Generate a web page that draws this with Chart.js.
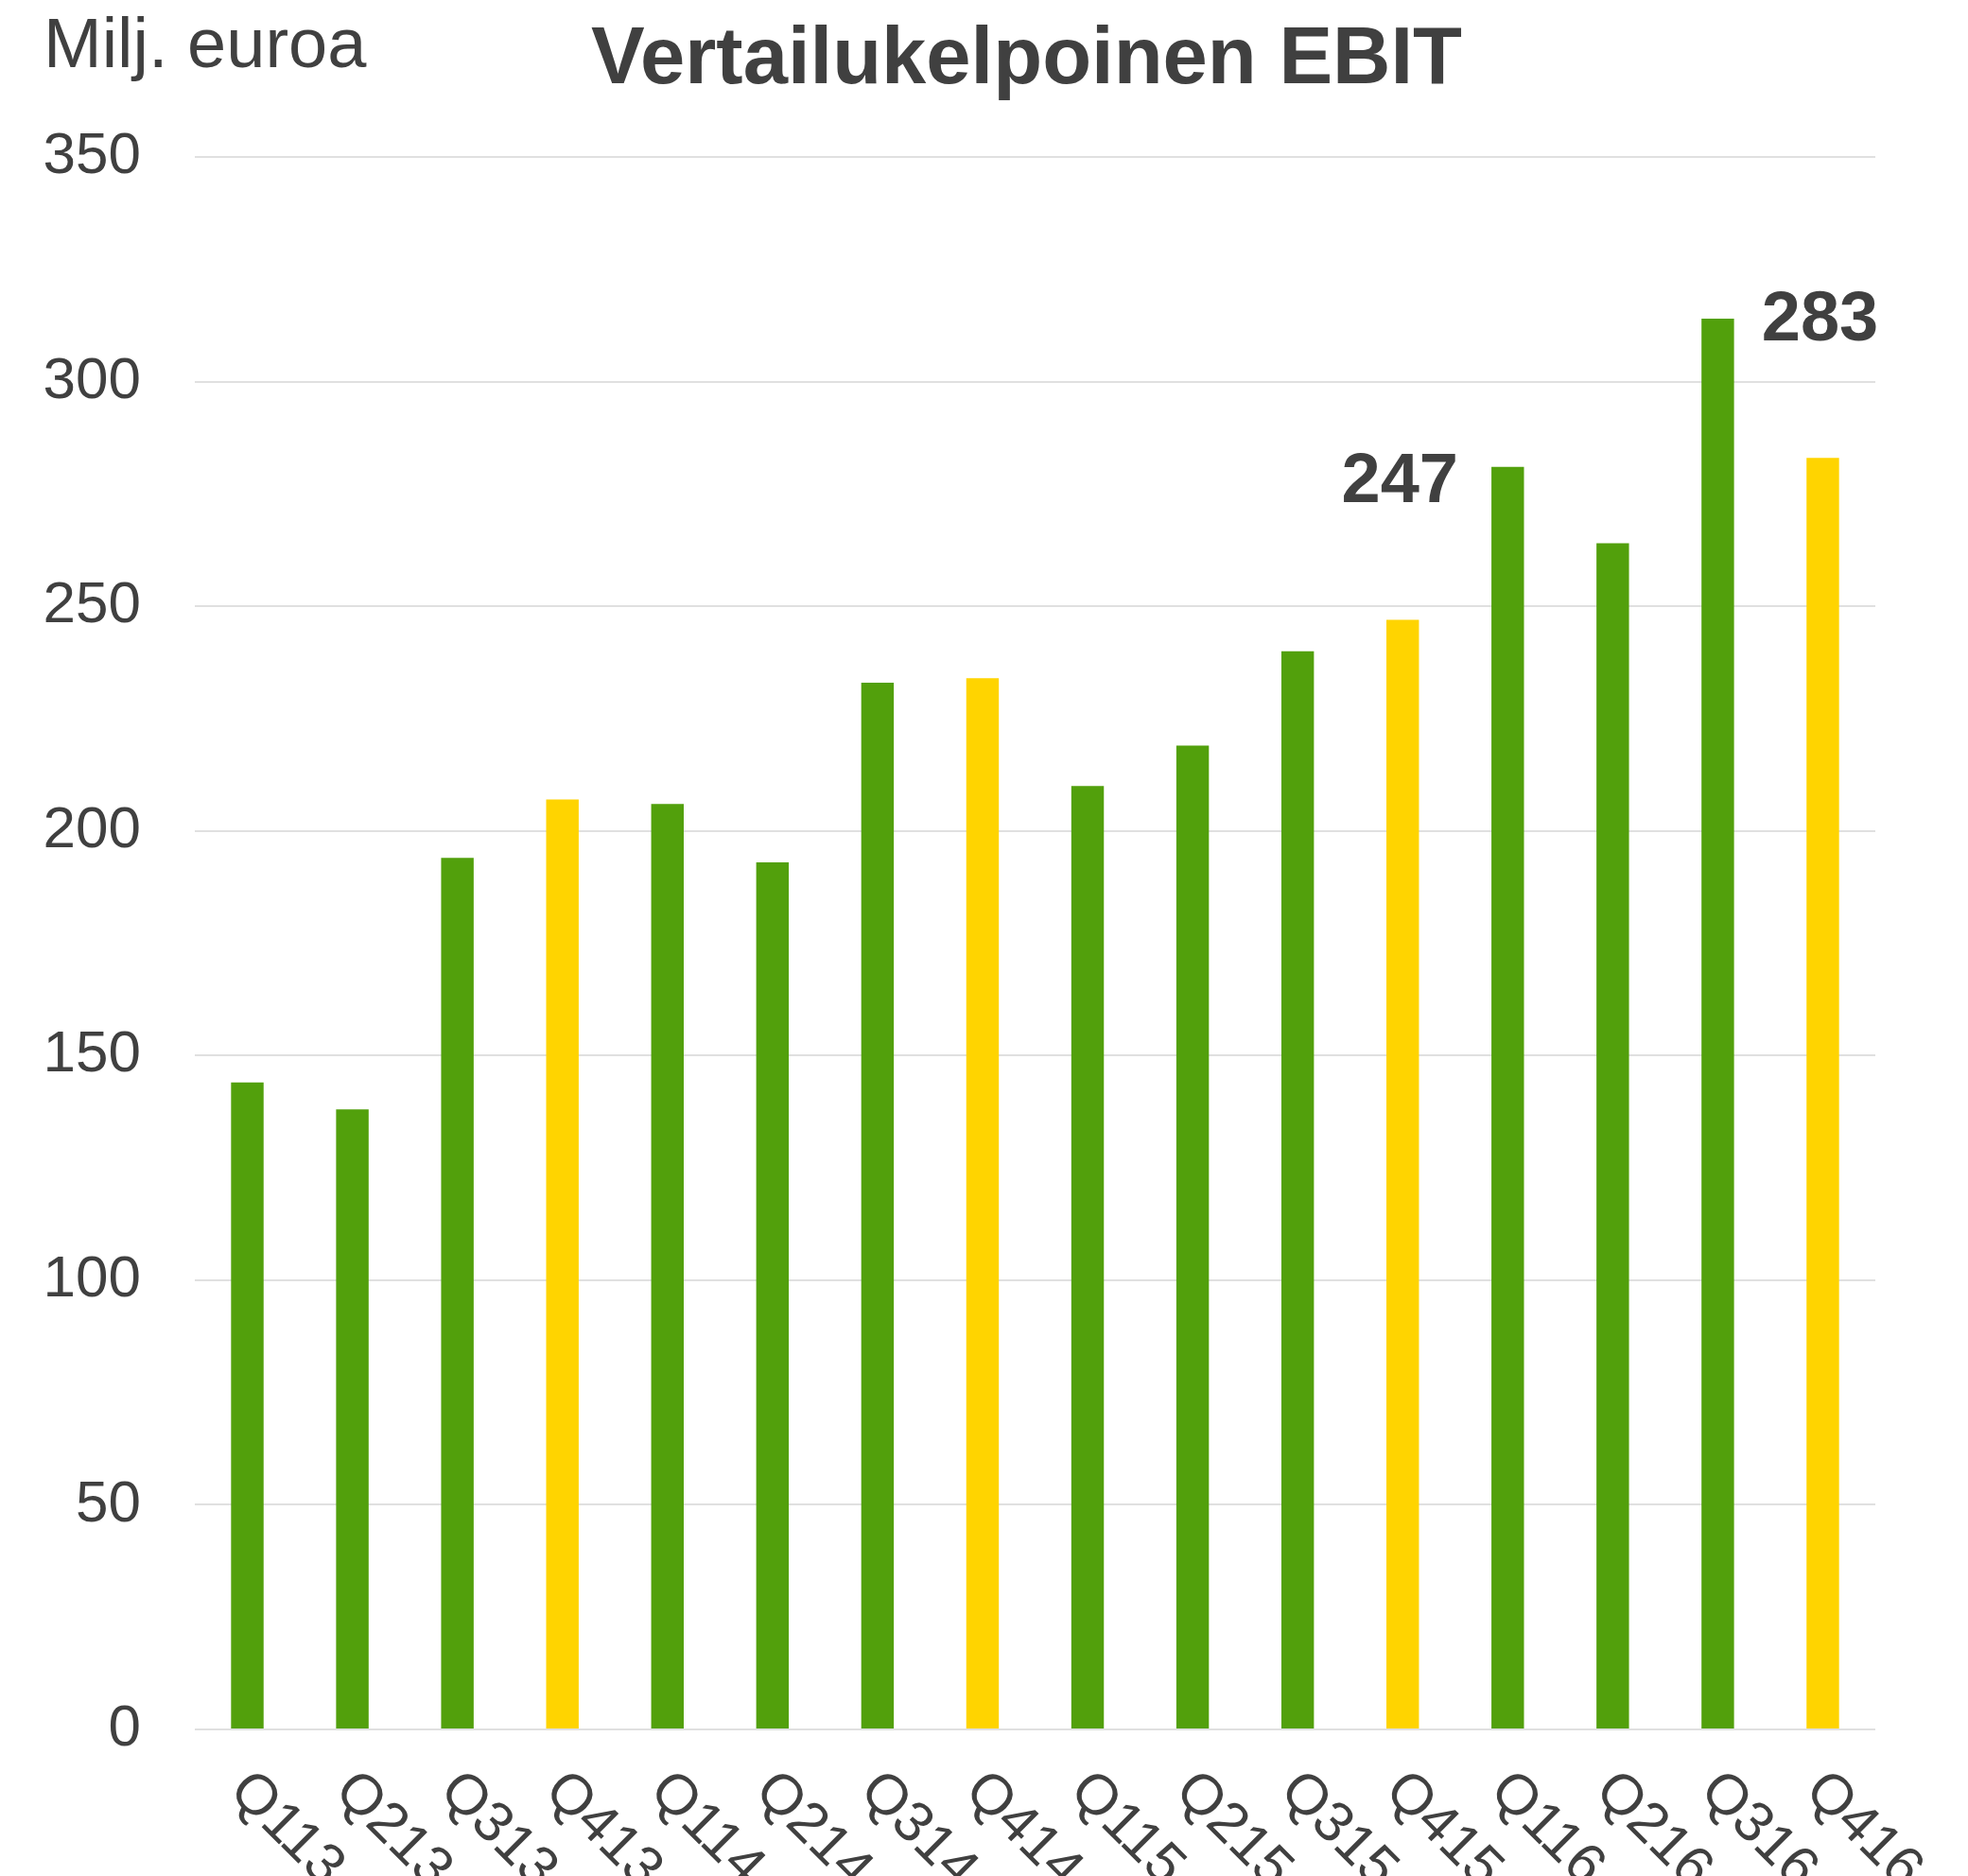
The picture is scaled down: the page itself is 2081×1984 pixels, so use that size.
<!DOCTYPE html>
<html>
<head>
<meta charset="utf-8">
<script src="https://cdn.jsdelivr.net/npm/chart.js@4.4.1/dist/chart.umd.min.js"></script>
<style>
  html, body { margin: 0; padding: 0; background: #fff; }
  canvas { display: block; }
</style>
</head>
<body>
<canvas id="ebitChart" width="2081" height="1984"></canvas>
<script>
// Data
const quarters = ['Q113', 'Q213', 'Q313', 'Q413', 'Q114', 'Q214', 'Q314', 'Q414',
  'Q115', 'Q215', 'Q315', 'Q415', 'Q116', 'Q216', 'Q316', 'Q416'];
const ebitValues = [144, 138, 194, 207, 206, 193, 233, 234, 210, 219, 240, 247, 281, 264, 314, 283];
const yTicks = [0, 50, 100, 150, 200, 250, 300, 350];
const labelledQuarters = ['Q415', 'Q416'];

const FONT = '"Liberation Sans", Arial, sans-serif';
const TEXT = '#404040';
const GREEN = '#52A00C';
const YELLOW = '#FFD400';

/* ---------------------------------------------------------------------------
    HEADER TEXTS
--------------------------------------------------------------------------- */
const headerPlugin = {
  id: 'header',
  afterDraw(chart) {
    const { ctx, chartArea } = chart;
    ctx.save();
    ctx.fillStyle = TEXT;
    ctx.textBaseline = 'alphabetic';
    ctx.textAlign = 'left';
    ctx.font = `74px ${FONT}`;
    ctx.fillText('Milj. euroa', 46, 71);
    ctx.textAlign = 'center';
    ctx.font = `bold 85px ${FONT}`;
    ctx.fillText('Vertailukelpoinen EBIT', (chartArea.left + chartArea.right) / 2 - 9, 88);
    ctx.restore();
  }
};

/* ---------------------------------------------------------------------------
    ROTATED X LABELS + VALUE LABELS
--------------------------------------------------------------------------- */
const labelsPlugin = {
  id: 'quarterLabels',
  afterDraw(chart) {
    const { ctx, scales: { x, y } } = chart;
    const meta = chart.getDatasetMeta(0);
    ctx.save();
    ctx.fillStyle = TEXT;

    // x labels, rotated clockwise
    ctx.font = `60px ${FONT}`;
    ctx.textAlign = 'left';
    ctx.textBaseline = 'top';
    quarters.forEach((q, i) => {
      const px = x.getPixelForTick(i);
      ctx.save();
      ctx.translate(px + 12, y.bottom + 34);
      ctx.rotate(Math.PI / 4);
      ctx.fillText(q, 0, 0);
      ctx.restore();
    });

    // highlighted values
    ctx.font = `bold 74px ${FONT}`;
    ctx.textAlign = 'center';
    ctx.textBaseline = 'alphabetic';
    labelledQuarters.forEach((q) => {
      const i = quarters.indexOf(q);
      const bar = meta.data[i];
      ctx.fillText(String(ebitValues[i]), bar.x - 3, bar.y - 124);
    });
    ctx.restore();
  }
};

const ctx = document.getElementById('ebitChart').getContext('2d');

new Chart(ctx, {
  type: 'bar',
  data: {
    labels: quarters,
    datasets: [{
      data: ebitValues,
      backgroundColor: quarters.map((q) => (q.startsWith('Q4') ? YELLOW : GREEN)),
      borderWidth: 0,
      categoryPercentage: 1,
      barPercentage: 0.31
    }]
  },
  options: {
    responsive: false,
    animation: false,
    devicePixelRatio: 1,
    layout: { padding: { top: 166, right: 98, bottom: 155, left: 0 } },
    plugins: {
      legend: { display: false },
      title: { display: false },
      tooltip: { enabled: false }
    },
    scales: {
      x: {
        afterFit: (scale) => { scale.height = 0; },
        grid: { display: false },
        border: { display: false },
        ticks: { display: false }
      },
      y: {
        min: 0,
        max: 350,
        afterBuildTicks: (scale) => { scale.ticks = yTicks.map((v) => ({ value: v })); },
        afterFit: (scale) => { scale.width = 206; },
        grid: { color: '#e0e0e0', lineWidth: 2, drawTicks: false },
        border: { display: false },
        ticks: {
          padding: 57,
          color: TEXT,
          font: { family: FONT, size: 62 }
        }
      }
    }
  },
  plugins: [headerPlugin, labelsPlugin]
});
</script>
</body>
</html>
